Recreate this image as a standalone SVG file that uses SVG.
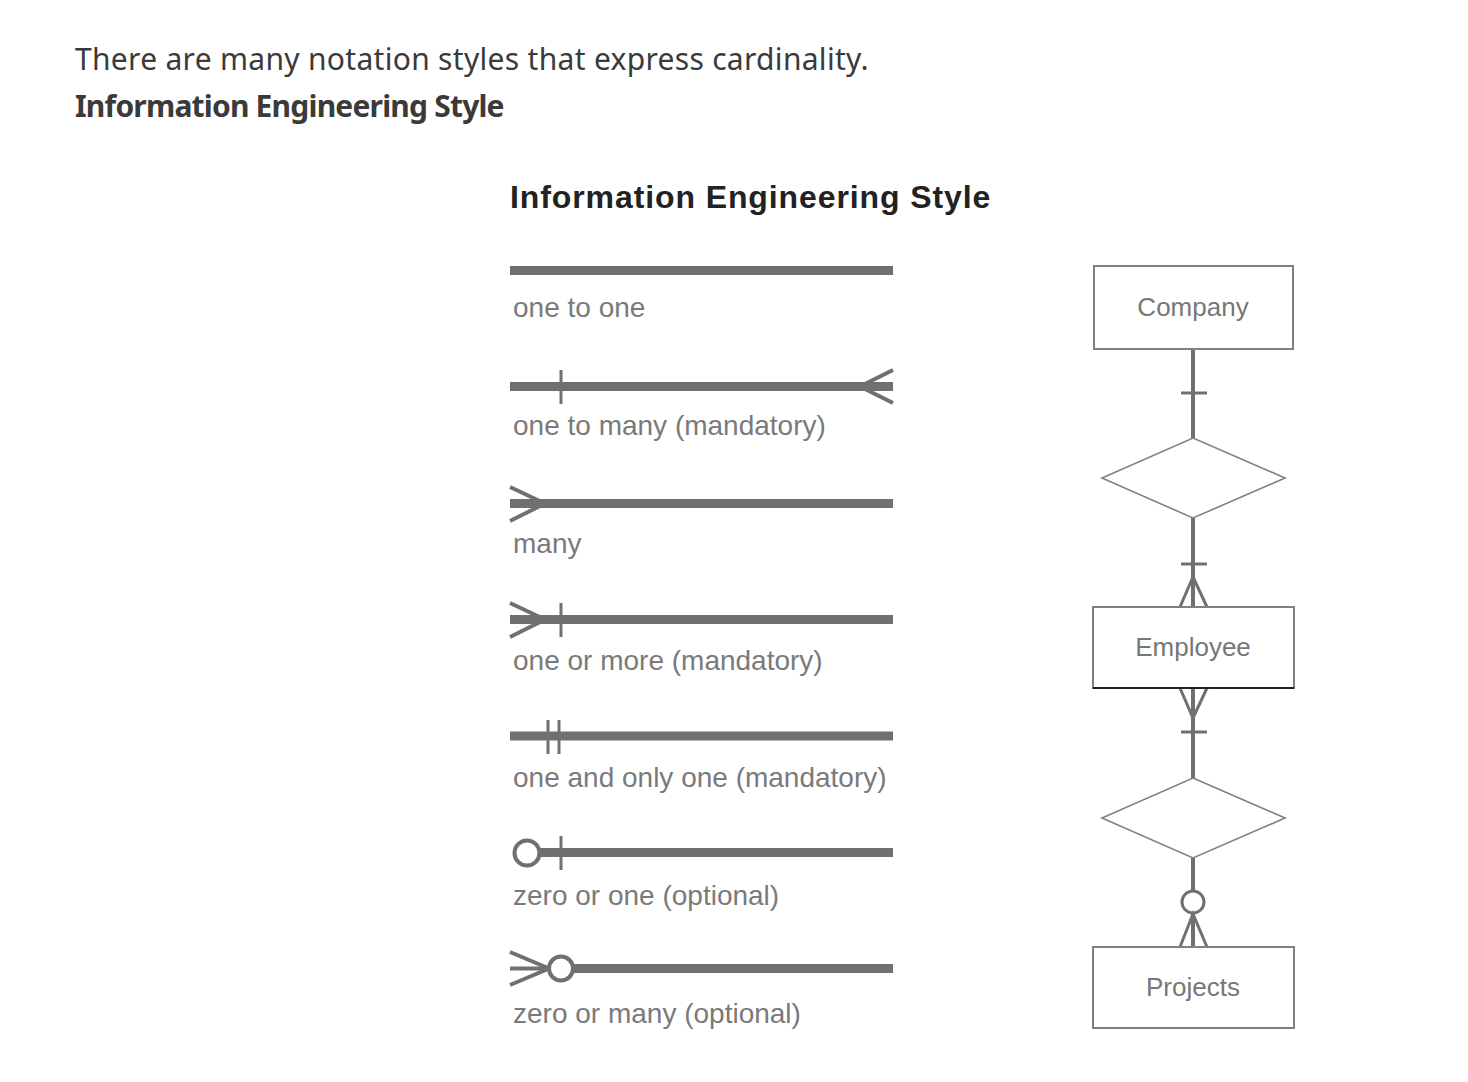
<svg xmlns="http://www.w3.org/2000/svg" width="1468" height="1082" viewBox="0 0 1468 1082">
<style>
.hdr{font-family:"Noto Sans","Open Sans",sans-serif;font-size:30px;fill:#3a3a3a}
.title{font-family:"Liberation Sans",Arial,sans-serif;font-size:32px;font-weight:bold;fill:#222;letter-spacing:0.9px}
.lbl{font-family:"Liberation Sans",Arial,sans-serif;font-size:28px;fill:#7a7a7a}
.ent{font-family:"Liberation Sans",Arial,sans-serif;font-size:26px;fill:#777;text-anchor:middle}
.main{stroke:#707070;stroke-width:9;fill:none}
.thin{stroke:#707070;stroke-width:3;fill:none}
.crow{stroke:#707070;stroke-width:4;fill:none}
.circ{stroke:#707070;stroke-width:4;fill:#fff}
.box{stroke:#808080;stroke-width:2;fill:#fff}
.dia{stroke:#808080;stroke-width:1.6;fill:#fff}
.rel{stroke:#707070;stroke-width:4;fill:none}
</style>
<rect width="1468" height="1082" fill="#fff"/>
<text class="hdr" x="75" y="70" letter-spacing="0.3">There are many notation styles that express cardinality.</text>
<text class="hdr" x="75" y="117" font-weight="bold" letter-spacing="-0.8">Information Engineering Style</text>
<text class="title" x="510" y="208">Information Engineering Style</text>

<g id="legend">
  <g id="one-to-one">
    <line class="main" x1="510" y1="270.5" x2="893" y2="270.5"/>
    <text class="lbl" x="513" y="317">one to one</text>
  </g>
  <g id="one-to-many">
    <line class="main" x1="510" y1="386.5" x2="893" y2="386.5"/>
    <line class="thin" x1="561" y1="370" x2="561" y2="404"/>
    <polyline class="crow" points="893,370 860,386.5 893,403"/>
    <text class="lbl" x="513" y="435">one to many (mandatory)</text>
  </g>
  <g id="many">
    <line class="main" x1="510" y1="503.5" x2="893" y2="503.5"/>
    <polyline class="crow" points="510,487 545,503.5 510,521"/>
    <text class="lbl" x="513" y="553">many</text>
  </g>
  <g id="one-or-more">
    <line class="main" x1="510" y1="619.5" x2="893" y2="619.5"/>
    <polyline class="crow" points="510,603 545,619.5 510,637"/>
    <line class="thin" x1="561" y1="603" x2="561" y2="637"/>
    <text class="lbl" x="513" y="670">one or more (mandatory)</text>
  </g>
  <g id="one-and-only-one">
    <line class="main" x1="510" y1="736" x2="893" y2="736"/>
    <line class="thin" x1="548" y1="720" x2="548" y2="754"/>
    <line class="thin" x1="559" y1="720" x2="559" y2="754"/>
    <text class="lbl" x="513" y="787">one and only one (mandatory)</text>
  </g>
  <g id="zero-or-one">
    <line class="main" x1="540" y1="852.5" x2="893" y2="852.5"/>
    <circle class="circ" cx="527" cy="853" r="12.5"/>
    <line class="thin" x1="561" y1="836" x2="561" y2="870"/>
    <text class="lbl" x="513" y="905">zero or one (optional)</text>
  </g>
  <g id="zero-or-many">
    <line class="main" x1="572" y1="968.5" x2="893" y2="968.5"/>
    <polyline class="crow" points="510,952 549,968.5 510,985"/>
    <line class="crow" x1="510" y1="968.5" x2="549" y2="968.5"/>
    <circle class="circ" cx="561" cy="968.5" r="12"/>
    <text class="lbl" x="513" y="1023">zero or many (optional)</text>
  </g>
</g>

<g id="connectors">
  <line class="rel" x1="1193" y1="349" x2="1193" y2="438"/>
  <line class="thin" x1="1181" y1="393" x2="1207" y2="393"/>
  <line class="rel" x1="1193" y1="518" x2="1193" y2="607"/>
  <line class="thin" x1="1181" y1="564" x2="1207" y2="564"/>
  <polyline class="thin" points="1180,607 1193,577 1207,607"/>
  <line class="rel" x1="1193" y1="688" x2="1193" y2="778"/>
  <polyline class="thin" points="1180,688 1193,718 1207,688"/>
  <line class="thin" x1="1181" y1="732" x2="1207" y2="732"/>
  <line class="rel" x1="1193" y1="858" x2="1193" y2="890"/>
  <line class="rel" x1="1193" y1="914" x2="1193" y2="947"/>
  <polyline class="thin" points="1180,947 1193,914 1207,947"/>
  <circle class="thin" cx="1193" cy="902" r="11" fill="#fff"/>
</g>

<g id="company">
  <rect class="box" x="1094" y="266" width="199" height="83"/>
  <text class="ent" x="1193" y="316">Company</text>
</g>
<g id="rel1">
  <polygon class="dia" points="1193,438 1285,478 1193,518 1102,478"/>
</g>
<g id="employee">
  <rect class="box" x="1093" y="607" width="201" height="81"/>
  <line x1="1093" y1="688" x2="1294" y2="688" stroke="#222" stroke-width="2"/>
  <text class="ent" x="1193" y="656">Employee</text>
</g>
<g id="rel2">
  <polygon class="dia" points="1193,778 1285,818 1193,858 1102,818"/>
</g>
<g id="projects">
  <rect class="box" x="1093" y="947" width="201" height="81"/>
  <text class="ent" x="1193" y="996">Projects</text>
</g>
</svg>
